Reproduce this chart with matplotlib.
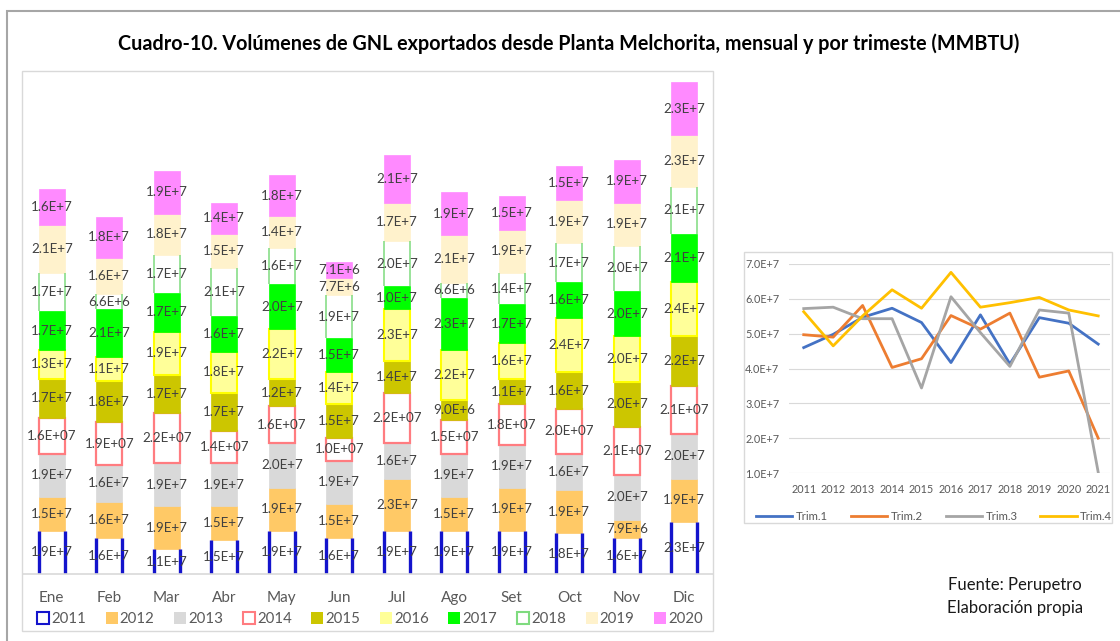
# plot.py
"""
Cuadro-10: volumenes de GNL exportados desde Planta Melchorita (MMBTU),
barras apiladas por mes (2011-2020) y lineas por trimestre (2011-2021).
"""

# ---------------------------------------------------------------------------------------------
# Library Imports
import numpy as np
import matplotlib
matplotlib.use('Agg')
import matplotlib.pyplot as plt
from matplotlib.patches import Rectangle, Patch
from matplotlib.lines import Line2D

plt.rcParams['font.family'] = ['Lato', 'DejaVu Sans']

# ---------------------------------------------------------------------------------------------
# Data (values in units of 1E+7 MMBTU)
SCALE = 1e7

months = ['Ene', 'Feb', 'Mar', 'Abr', 'May', 'Jun', 'Jul', 'Ago', 'Set', 'Oct', 'Nov', 'Dic']
years = ['2011', '2012', '2013', '2014', '2015', '2016', '2017', '2018', '2019', '2020']

v2011 = [1.9, 1.6, 1.1, 1.5, 1.9, 1.6, 1.9, 1.9, 1.9, 1.8, 1.6, 2.3]
v2012 = [1.5, 1.6, 1.9, 1.5, 1.9, 1.5, 2.3, 1.5, 1.9, 1.9, 0.79, 1.9]
v2013 = [1.9, 1.6, 1.9, 1.9, 2.0, 1.9, 1.6, 1.9, 1.9, 1.6, 2.0, 2.0]
v2014 = [1.6, 1.9, 2.2, 1.4, 1.6, 1.0, 2.2, 1.5, 1.8, 2.0, 2.1, 2.1]
v2015 = [1.7, 1.8, 1.7, 1.7, 1.2, 1.5, 1.4, 0.90, 1.1, 1.6, 2.0, 2.2]
v2016 = [1.3, 1.1, 1.9, 1.8, 2.2, 1.4, 2.3, 2.2, 1.6, 2.4, 2.0, 2.4]
v2017 = [1.7, 2.1, 1.7, 1.6, 2.0, 1.5, 1.0, 2.3, 1.7, 1.6, 2.0, 2.1]
v2018 = [1.7, 0.66, 1.7, 2.1, 1.6, 1.9, 2.0, 0.66, 1.4, 1.7, 2.0, 2.1]
v2019 = [2.1, 1.6, 1.8, 1.5, 1.4, 0.77, 1.7, 2.1, 1.9, 1.9, 1.9, 2.3]
v2020 = [1.6, 1.8, 1.9, 1.4, 1.8, 0.71, 2.1, 1.9, 1.5, 1.5, 1.9, 2.3]
monthly = [v2011, v2012, v2013, v2014, v2015, v2016, v2017, v2018, v2019, v2020]

q_years = ['2011', '2012', '2013', '2014', '2015', '2016', '2017', '2018', '2019', '2020', '2021']
trim1 = [4.60, 4.98, 5.47, 5.73, 5.32, 4.17, 5.54, 4.13, 5.46, 5.30, 4.70]
trim2 = [4.97, 4.90, 5.81, 4.03, 4.28, 5.52, 5.13, 5.59, 3.75, 3.93, 2.00]
trim3 = [5.72, 5.76, 5.43, 5.43, 3.44, 6.06, 5.03, 4.06, 5.68, 5.59, 1.02]
trim4 = [5.63, 4.65, 5.51, 6.26, 5.73, 6.76, 5.76, 5.89, 6.04, 5.68, 5.51]
quarters = {'Trim.1': trim1, 'Trim.2': trim2, 'Trim.3': trim3, 'Trim.4': trim4}

# ---------------------------------------------------------------------------------------------
# Styles
# (face, edge, linewidth) per year
bar_styles = {
    '2011': ('white', '#1414CC', 2.4),
    '2012': ('#FFC966', '#FFC966', 0.5),
    '2013': ('#D9D9D9', '#D9D9D9', 0.5),
    '2014': ('white', '#FF7C80', 1.6),
    '2015': ('#CCC600', '#CCC600', 0.5),
    '2016': ('#FFFF99', '#FFFF00', 1.5),
    '2017': ('#00FF00', '#00FF00', 0.5),
    '2018': ('white', '#7FDB7F', 1.1),
    '2019': ('#FFF2CC', '#FFF2CC', 0.5),
    '2020': ('#FF8AFF', '#FF8AFF', 0.5),
}
# outlined series whose bars only show the side edges
side_only = ['2011', '2018']
line_colors = {'Trim.1': '#4472C4', 'Trim.2': '#ED7D31', 'Trim.3': '#A5A5A5', 'Trim.4': '#FFC000'}
TXT = '#404040'
FRAME = '#D9D9D9'
BAR_W = 0.45


def fmt_label(v, two_digit_exp=False):
    val = v * SCALE
    e = int(np.floor(np.log10(val)))
    m = val / 10 ** e
    if two_digit_exp:
        return f"{m:.1f}E+{e:02d}"
    return f"{m:.1f}E+{e}"


# ---------------------------------------------------------------------------------------------
W, H = 1120, 641
fig = plt.figure(figsize=(W / 100, H / 100), dpi=100)


def fx(px):
    return px / W


def fy(py):
    return 1 - py / H


# outer border and chart frames
fig.patches.append(Rectangle((fx(7), fy(700)), fx(1200), fy(11) - fy(700), transform=fig.transFigure,
                             fill=False, edgecolor='#A6A6A6', linewidth=1.5))
fig.patches.append(Rectangle((fx(22), fy(631)), fx(713) - fx(22), fy(71) - fy(631), transform=fig.transFigure,
                             fill=False, edgecolor=FRAME, linewidth=1.0))
fig.patches.append(Rectangle((fx(744), fy(523)), fx(1112) - fx(744), fy(252) - fy(523), transform=fig.transFigure,
                             fill=False, edgecolor=FRAME, linewidth=1.0))

fig.text(fx(569), fy(44), 'Cuadro-10. Volúmenes de GNL exportados desde Planta Melchorita, mensual y por trimeste (MMBTU)',
         ha='center', va='center', fontsize=14.2, fontweight='bold', color='black')

# ---------------------------------------------------------------------------------------------
# Stacked bars
base_px, top_px = 574, 72
px_per_unit = 22.65
ax = fig.add_axes([fx(23), fy(base_px), fx(713) - fx(23), fy(top_px) - fy(base_px)])
x = np.arange(len(months))
bottom = np.zeros(len(months))
handles = []
for yr, vals in zip(years, monthly):
    face, edge, lw = bar_styles[yr]
    vals = np.array(vals)
    if yr in side_only:
        ax.bar(x, vals, BAR_W, bottom=bottom, color=face, linewidth=0, zorder=2)
        ax.vlines(np.concatenate([x - BAR_W / 2, x + BAR_W / 2]),
                  np.concatenate([bottom, bottom]), np.concatenate([bottom + vals, bottom + vals]),
                  colors=edge, linewidth=lw, zorder=2.5)
    else:
        ax.bar(x, vals, BAR_W, bottom=bottom, color=face, edgecolor=edge, linewidth=lw, zorder=2)
    for xi, b, v in zip(x, bottom, vals):
        ax.text(xi, b + v / 2, fmt_label(v, yr == '2014'), ha='center', va='center',
                fontsize=9.6, color=TXT, zorder=3)
    bottom = bottom + vals
    handles.append(Patch(facecolor=face, edgecolor=edge, linewidth=1.5 if face == 'white' else 0, label=yr))

ax.set_xlim(-0.5, len(months) - 0.5)
ax.set_ylim(0, (base_px - top_px) / px_per_unit)
ax.set_yticks([])
for s in ['left', 'right', 'top']:
    ax.spines[s].set_visible(False)
ax.spines['bottom'].set_color(FRAME)
ax.spines['bottom'].set_linewidth(1.2)
ax.set_xticks(x)
ax.set_xticklabels(months, fontsize=11, color='#595959')
ax.tick_params(axis='x', length=0, pad=12)
ax.patch.set_alpha(0)

fig.legend(handles=handles, loc='center', bbox_to_anchor=(fx(370), fy(619)), ncol=10, frameon=False,
           fontsize=10.8, handlelength=0.8, handleheight=0.8, handletextpad=0.15, columnspacing=1.3,
           labelcolor='#595959')

# ---------------------------------------------------------------------------------------------
# Quarterly lines
ax2 = fig.add_axes([fx(789), fy(473), fx(1110) - fx(789), fy(264) - fy(473)])
xq = np.arange(len(q_years))
for name, vals in quarters.items():
    ax2.plot(xq, np.array(vals) * SCALE, color=line_colors[name], linewidth=2.0, label=name)
ax2.set_xlim(-0.5, len(q_years) - 0.6)
ax2.set_ylim(1e7, 7e7)
ax2.set_yticks(np.arange(1, 8) * SCALE)
ax2.set_yticklabels([f"{v:.1f}E+7" for v in range(1, 8)], fontsize=7.8, color='#595959')
ax2.set_xticks(xq)
ax2.set_xticklabels(q_years, fontsize=7.8, color='#595959')
ax2.tick_params(length=0)
ax2.tick_params(axis='y', pad=7)
ax2.tick_params(axis='x', pad=8)
ax2.grid(axis='y', color=FRAME, linewidth=0.8)
ax2.set_axisbelow(True)
for s in ax2.spines.values():
    s.set_visible(False)

line_handles = [Line2D([0], [0], color=line_colors[n], linewidth=2.0, label=n) for n in quarters]
fig.legend(handles=line_handles, loc='center', bbox_to_anchor=(fx(934), fy(516)), ncol=4, frameon=False,
           fontsize=8.2, handlelength=3.2, handletextpad=0.3, columnspacing=2.0, labelcolor='#595959')

# ---------------------------------------------------------------------------------------------
fig.text(fx(1015), fy(585), 'Fuente: Perupetro', ha='center', va='center', fontsize=12, color='#1A1A1A')
fig.text(fx(1015), fy(608), 'Elaboración propia', ha='center', va='center', fontsize=12, color='#1A1A1A')

fig.savefig('out.png', dpi=100)
